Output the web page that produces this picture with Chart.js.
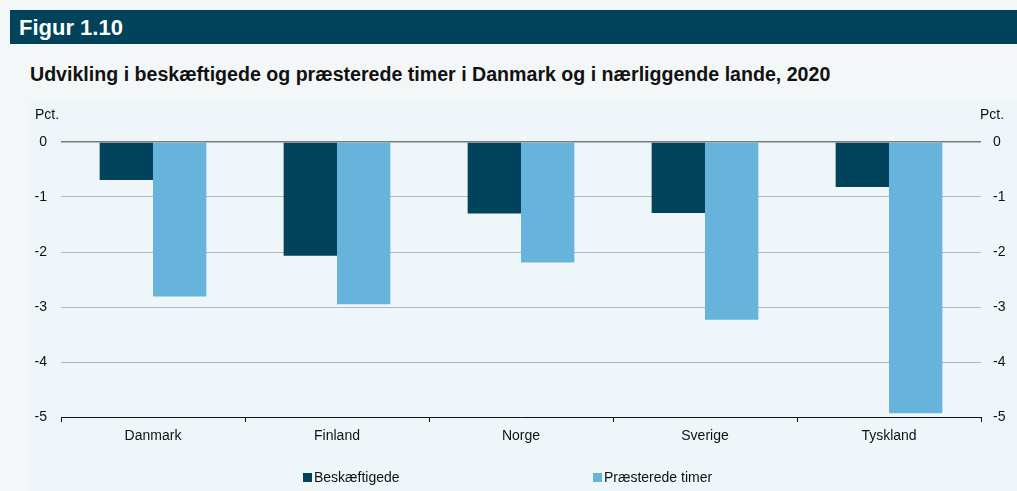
<!DOCTYPE html>
<html>
<head>
<meta charset="utf-8">
<script src="https://cdn.jsdelivr.net/npm/chart.js@4"></script>
<style>
    body { margin: 0; width: 1017px; height: 491px; background: #f4f7f8; font-family: "Liberation Sans", Arial, sans-serif; position: relative; overflow: hidden; }
    #head { position: absolute; left: 10px; top: 10px; right: 0; height: 34px; background: #00435a; color: #fff; font-weight: bold; font-size: 22px; line-height: 35px; padding-left: 9px; }
    #title { position: absolute; left: 30px; top: 63px; font-weight: bold; font-size: 19.6px; color: #111; }
    #panel { position: absolute; left: 28px; top: 100px; width: 989px; height: 391px; background: #eef6fa; }
    .unit { position: absolute; top: 106px; font-size: 14px; color: #111; }
    #legend { position: absolute; top: 469px; left: 0; width: 1017px; font-size: 14px; color: #111; }
    .item { position: absolute; white-space: nowrap; }
    .sw { display: inline-block; width: 9px; height: 9px; margin-right: 2px; }
</style>
</head>
<body>
<div id="head">Figur 1.10</div>
<div id="title">Udvikling i beskæftigede og præsterede timer i Danmark og i nærliggende lande, 2020</div>
<div id="panel"><canvas id="myChart" width="989" height="391"></canvas></div>
<div class="unit" style="left:35px">Pct.</div>
<div class="unit" style="left:980px">Pct.</div>
<div id="legend">
    <span class="item" style="left:303px"><span class="sw" style="background:#00435a"></span>Beskæftigede</span>
    <span class="item" style="left:593px"><span class="sw" style="background:#66b4dc"></span>Præsterede timer</span>
</div>
<script>
const countries = ["Danmark", "Finland", "Norge", "Sverige", "Tyskland"];
const employed = [-0.69, -2.07, -1.3, -1.29, -0.82];
const hoursWorked = [-2.81, -2.95, -2.19, -3.23, -4.93];
const yTicks = [0, -1, -2, -3, -4, -5];

const tickFont = { family: "Liberation Sans", size: 14 };

const data = {
    labels: countries,
    datasets: [
        {
            label: "Beskæftigede",
            data: employed,
            backgroundColor: "#00435a",
            categoryPercentage: 0.58,
            barPercentage: 1,
        },
        {
            label: "Præsterede timer",
            data: hoursWorked,
            backgroundColor: "#66b4dc",
            categoryPercentage: 0.58,
            barPercentage: 1,
        },
    ],
};

const config = {
    type: "bar",
    data: data,
    options: {
        responsive: false,
        animation: false,
        layout: {
            padding: { top: 42, left: 0, right: 0, bottom: 0 },
        },
        scales: {
            x: {
                border: { display: true, color: "#111", width: 1 },
                grid: {
                    display: true,
                    drawOnChartArea: false,
                    drawTicks: true,
                    tickLength: 5,
                    color: "#111",
                },
                ticks: { font: tickFont, color: "#111", padding: 6 },
                afterFit: (scale) => { scale.height = 74; },
            },
            y: {
                position: "left",
                min: -5,
                max: 0,
                border: { display: false },
                grid: {
                    drawTicks: false,
                    color: (ctx) => ctx.tick.value === 0 ? "#7a7a7a" : "#b5b5b5",
                    lineWidth: (ctx) => ctx.tick.value === 0 ? 1.5 : 1,
                },
                afterBuildTicks: (scale) => { scale.ticks = yTicks.map((v) => ({ value: v })); },
                ticks: { font: tickFont, color: "#111", padding: 14 },
                afterFit: (scale) => { scale.width = 33; },
            },
            y2: {
                position: "right",
                min: -5,
                max: 0,
                border: { display: false },
                grid: { drawOnChartArea: false, drawTicks: false },
                afterBuildTicks: (scale) => { scale.ticks = yTicks.map((v) => ({ value: v })); },
                ticks: { font: tickFont, color: "#111", padding: 12 },
                afterFit: (scale) => { scale.width = 36; },
            },
        },
        plugins: {
            legend: { display: false },
            tooltip: { enabled: false },
        },
    },
};

const myChart = new Chart(
    document.getElementById("myChart").getContext("2d"),
    config
);
</script>
</body>
</html>
